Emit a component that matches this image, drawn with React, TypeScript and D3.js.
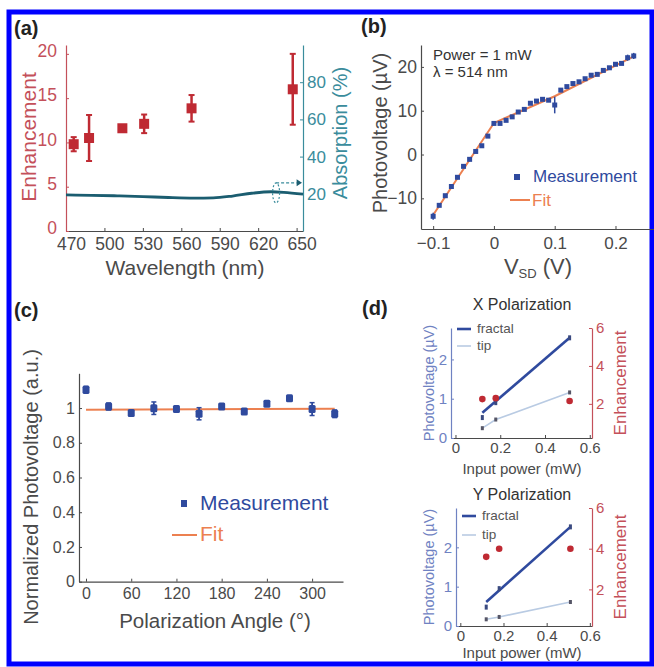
import React, { useEffect, useRef } from 'react';
import * as d3 from 'd3';

// (a) enhancement vs wavelength + absorption
const wavelengths = [476, 488, 514, 531, 568, 647];
const enhancement = [9.8, 10.5, 11.6, 12.1, 13.85, 16.0];
const enhancementErr = [0.8, 2.6, 0.2, 1.05, 1.5, 4.0];
const absWavelength = [470, 490, 510, 530, 550, 570, 585, 600, 615, 630, 640, 655];
const absorption = [19.4, 19.2, 18.9, 18.5, 18.0, 17.7, 17.8, 18.8, 20.3, 21.1, 20.8, 19.8];

// (b) photovoltage vs bias
const vsd = [-0.1, -0.09, -0.08, -0.07, -0.06, -0.05, -0.04, -0.03, -0.02, -0.01, 0, 0.01, 0.02, 0.03, 0.04, 0.05, 0.06,
  0.07, 0.08, 0.09, 0.1, 0.11, 0.12, 0.13, 0.14, 0.15, 0.16, 0.17, 0.18, 0.19, 0.2, 0.21, 0.22, 0.23];
const pv = [-14.1, -11.6, -9.4, -7.3, -5.2, -2.7, -1.1, 0.7, 2.0, 4.2, 7.1, 7.1, 7.8, 8.6, 9.7, 10.3, 11.7,
  12.2, 12.6, 12.4, 11.3, 14.7, 15.5, 16.2, 16.6, 17.3, 18.1, 18.3, 19.2, 19.8, 20.6, 20.8, 22.1, 22.5];
const pvErr = [0.8, 0.4, 0.4, 0.3, 0.3, 0.4, 0.3, 0.3, 0.3, 0.4, 0.4, 0.3, 0.3, 0.3, 0.3, 0.3, 0.4,
  0.3, 0.3, 0.3, 1.9, 0.4, 0.3, 0.3, 0.4, 0.3, 0.3, 0.4, 0.3, 0.3, 0.3, 0.4, 0.7, 0.7];
const fitV = [-0.1, 0, 0.1, 0.23];
const fitPV = [-13.8, 7.2, 13.3, 22.4];

// (c) normalized photovoltage vs polarization angle
const angles = [0, 30, 60, 90, 120, 150, 180, 210, 240, 270, 300, 330];
const normPV = [1.105, 1.009, 0.971, 0.999, 0.994, 0.967, 1.009, 0.98, 1.024, 1.057, 0.994, 0.967];
const normErr = [0.02, 0.02, 0.012, 0.036, 0.01, 0.035, 0.015, 0.015, 0.012, 0.01, 0.037, 0.022];
const fitAngles = [0, 330];
const fitNorm = [0.99, 0.996];

// (d) power dependence
const power = [0.12, 0.18, 0.51];
const fitPower = [0.12, 0.51];
const fractalX = [0.52, 0.9, 2.55];
const fractalFitX = [0.64, 2.55];
const tipX = [0.25, 0.47, 1.16];
const enhX = [2.25, 2.3, 2.15];
const fractalY = [0.48, 0.95, 2.52];
const fractalFitY = [0.61, 2.52];
const tipY = [0.17, 0.23, 0.61];
const enhY = [3.6, 4.0, 4.0];

const FONT = 'Liberation Sans, Arial, sans-serif';
const RED = '#bf2a33';
const RED_AX = '#c4505a';
const TEAL = '#3a8c9c';
const TEAL_DK = '#1b5d70';
const BLUE = '#2f4a9e';
const ORANGE = '#ec8050';
const GRAY = '#4a4a4a';
const BLUE_AX = '#6f82c2';
const TIP = '#b9cbe3';
const fmt = d3.format('~g');

function axis(g, gen, transform, color, fs, ticks, pad = 4) {
  const a = gen.tickValues(ticks).tickSizeInner(-3).tickSizeOuter(0).tickPadding(pad).tickFormat(fmt);
  const sel = g.append('g').attr('transform', transform).call(a);
  sel.select('.domain').attr('stroke', color).attr('stroke-width', 1.2);
  sel.selectAll('line').attr('stroke', color);
  sel.selectAll('text').attr('fill', color).attr('font-size', fs).attr('font-family', FONT);
  return sel;
}

function vLabel(g, x, y, text, color, fs) {
  g.append('text').attr('transform', `translate(${x},${y}) rotate(-90)`).attr('text-anchor', 'middle')
    .attr('font-family', FONT).attr('font-size', fs).attr('fill', color).text(text);
}

function hLabel(g, x, y, text, color, fs, anchor = 'middle') {
  return g.append('text').attr('x', x).attr('y', y).attr('text-anchor', anchor)
    .attr('font-family', FONT).attr('font-size', fs).attr('fill', color).text(text);
}

function App() {
  const ref = useRef(null);

  useEffect(() => {
    const svg = d3.select(ref.current);
    svg.selectAll('*').remove();

    // frame
    svg.append('rect').attr('x', 9).attr('y', 12).attr('width', 643).attr('height', 652)
      .attr('fill', 'white').attr('stroke', '#0000ff').attr('stroke-width', 5);

    // panel letters
    [['(a)', 14, 35], ['(b)', 361, 33], ['(c)', 14, 317], ['(d)', 362, 315]].forEach(([t, x, y]) => {
      svg.append('text').attr('x', x).attr('y', y).attr('font-family', FONT).attr('font-weight', 'bold')
        .attr('font-size', 20).attr('fill', '#222').text(t);
    });

    // ---------- (a)
    const ga = svg.append('g');
    const xA = d3.scaleLinear().domain([470, 655]).range([66, 303]);
    const yA = d3.scaleLinear().domain([0, 21]).range([231, 45]);
    const yA2 = d3.scaleLinear().domain([0, 100]).range([231, 45]);
    const bx = axis(ga, d3.axisBottom(xA), 'translate(0,231)', GRAY, 17.5, [470, 500, 530, 560, 590, 620, 650], 7);
    bx.selectAll('text').attr('dx', 5);
    const ly = axis(ga, d3.axisLeft(yA), 'translate(66,0)', RED_AX, 17.5, [0, 5, 10, 15, 20], 9);
    ly.selectAll('text').attr('dy', '0.15em');
    axis(ga, d3.axisRight(yA2), 'translate(303,0)', TEAL, 17, [20, 40, 60, 80]);
    ga.append('path').datum(absWavelength.map((w, i) => [w, absorption[i]]))
      .attr('d', d3.line().x(d => xA(d[0])).y(d => yA2(d[1])).curve(d3.curveMonotoneX))
      .attr('fill', 'none').attr('stroke', TEAL_DK).attr('stroke-width', 2.8);
    // marker pointing to right axis
    const ex = xA(634), ey = yA2(20.5);
    ga.append('ellipse').attr('cx', ex).attr('cy', ey).attr('rx', 3.5).attr('ry', 10)
      .attr('fill', 'none').attr('stroke', TEAL).attr('stroke-width', 1.2).attr('stroke-dasharray', '2,2');
    ga.append('line').attr('x1', ex).attr('x2', xA(650)).attr('y1', ey - 10).attr('y2', ey - 10)
      .attr('stroke', TEAL).attr('stroke-width', 1.4).attr('stroke-dasharray', '3,2');
    ga.append('path').attr('d', `M${xA(650)},${ey - 13.5}L${xA(655) - 1},${ey - 10}L${xA(650)},${ey - 6.5}Z`)
      .attr('fill', TEAL_DK);
    wavelengths.forEach((w, i) => {
      const x = xA(w);
      const lo = yA(enhancement[i] - enhancementErr[i]);
      const hi = yA(enhancement[i] + enhancementErr[i]);
      ga.append('line').attr('x1', x).attr('x2', x).attr('y1', lo).attr('y2', hi)
        .attr('stroke', RED).attr('stroke-width', 2.5);
      [lo, hi].forEach(yy => ga.append('line').attr('x1', x - 3).attr('x2', x + 3).attr('y1', yy).attr('y2', yy)
        .attr('stroke', RED).attr('stroke-width', 2));
      ga.append('rect').attr('x', x - 5).attr('y', yA(enhancement[i]) - 5).attr('width', 10).attr('height', 10)
        .attr('fill', RED);
    });
    vLabel(ga, 36, 137, 'Enhancement', RED_AX, 21);
    vLabel(ga, 347, 133, 'Absorption (%)', TEAL, 20);
    hLabel(ga, 185, 275, 'Wavelength (nm)', GRAY, 21);

    // ---------- (b)
    const gb = svg.append('g');
    const xB = d3.scaleLinear().domain([-0.12, 0.265]).range([421, 655]);
    const yB = d3.scaleLinear().domain([-17, 25]).range([229, 45]);
    axis(gb, d3.axisBottom(xB), 'translate(0,229)', GRAY, 17, [-0.1, 0, 0.1, 0.2], 8);
    axis(gb, d3.axisLeft(yB), 'translate(421,0)', GRAY, 17.5, [-10, 0, 10, 20]);
    gb.append('path').datum(fitV.map((v, i) => [v, fitPV[i]]))
      .attr('d', d3.line().x(d => xB(d[0])).y(d => yB(d[1])))
      .attr('fill', 'none').attr('stroke', ORANGE).attr('stroke-width', 2);
    vsd.forEach((v, i) => {
      const x = xB(v);
      gb.append('line').attr('x1', x).attr('x2', x).attr('y1', yB(pv[i] - pvErr[i])).attr('y2', yB(pv[i] + pvErr[i]))
        .attr('stroke', BLUE).attr('stroke-width', 1.5);
      gb.append('rect').attr('x', x - 2.5).attr('y', yB(pv[i]) - 2.5).attr('width', 5).attr('height', 5)
        .attr('fill', BLUE);
    });
    hLabel(gb, 433, 60, 'Power = 1 mW', '#333', 15, 'start');
    hLabel(gb, 433, 77, 'λ = 514 nm', '#333', 15, 'start');
    gb.append('rect').attr('x', 514).attr('y', 174).attr('width', 6).attr('height', 6).attr('fill', BLUE);
    hLabel(gb, 533, 182, 'Measurement', BLUE, 17, 'start');
    gb.append('line').attr('x1', 510).attr('x2', 530).attr('y1', 200).attr('y2', 200)
      .attr('stroke', ORANGE).attr('stroke-width', 2);
    hLabel(gb, 532, 206, 'Fit', ORANGE, 17, 'start');
    vLabel(gb, 387, 133, 'Photovoltage (µV)', GRAY, 20);
    const xl = hLabel(gb, 538, 274, '', GRAY, 22);
    xl.append('tspan').text('V');
    xl.append('tspan').attr('font-size', 13).attr('dy', 4).text('SD');
    xl.append('tspan').attr('dy', -4).text(' (V)');

    // ---------- (c)
    const gc = svg.append('g');
    const xC = d3.scaleLinear().domain([-9.3, 341]).range([79, 343]);
    const yC = d3.scaleLinear().domain([0, 1.2]).range([581.7, 373.3]);
    axis(gc, d3.axisBottom(xC), 'translate(0,581.7)', GRAY, 16, [0, 60, 120, 180, 240, 300], 6);
    axis(gc, d3.axisLeft(yC), 'translate(79,0)', GRAY, 16, [0, 0.2, 0.4, 0.6, 0.8, 1]);
    gc.append('path').datum(fitAngles.map((a, i) => [a, fitNorm[i]]))
      .attr('d', d3.line().x(d => xC(d[0])).y(d => yC(d[1])))
      .attr('fill', 'none').attr('stroke', ORANGE).attr('stroke-width', 2);
    angles.forEach((a, i) => {
      const x = xC(a);
      const lo = yC(normPV[i] - normErr[i]);
      const hi = yC(normPV[i] + normErr[i]);
      gc.append('line').attr('x1', x).attr('x2', x).attr('y1', lo).attr('y2', hi)
        .attr('stroke', BLUE).attr('stroke-width', 1.8);
      [lo, hi].forEach(yy => gc.append('line').attr('x1', x - 2.5).attr('x2', x + 2.5).attr('y1', yy).attr('y2', yy)
        .attr('stroke', BLUE).attr('stroke-width', 1.5));
      gc.append('rect').attr('x', x - 3.5).attr('y', yC(normPV[i]) - 4).attr('width', 7).attr('height', 8)
        .attr('rx', 1.5).attr('fill', BLUE);
    });
    gc.append('rect').attr('x', 181).attr('y', 500).attr('width', 6).attr('height', 7).attr('fill', BLUE);
    hLabel(gc, 200, 510, 'Measurement', BLUE, 21, 'start');
    gc.append('line').attr('x1', 172).attr('x2', 197).attr('y1', 535).attr('y2', 535)
      .attr('stroke', ORANGE).attr('stroke-width', 2);
    hLabel(gc, 200, 541, 'Fit', ORANGE, 21, 'start');
    vLabel(gc, 38, 487, 'Normalized Photovoltage (a.u.)', GRAY, 20);
    hLabel(gc, 215, 628, 'Polarization Angle (°)', GRAY, 20.5);

    // ---------- (d)
    const subplots = [
      { title: 'X Polarization', titleY: 310, top: 328, bottom: 438, left: 451, right: 592, yMax: 2.8,
        xLabelY: 474, fractal: fractalX, fit: fractalFitX, tip: tipX, enh: enhX, legY: 329, legGap: 17 },
      { title: 'Y Polarization', titleY: 500, top: 508, bottom: 626, left: 456, right: 592, yMax: 3.0,
        xLabelY: 658, fractal: fractalY, fit: fractalFitY, tip: tipY, enh: enhY, legY: 516, legGap: 19 },
    ];
    subplots.forEach(p => {
      const g = svg.append('g');
      const x = d3.scaleLinear().domain([-0.02, 0.61]).range([p.left, p.right]);
      const y = d3.scaleLinear().domain([0, p.yMax]).range([p.bottom, p.top]);
      const y2 = d3.scaleLinear().domain([0.2, 6]).range([p.bottom, p.top]);
      axis(g, d3.axisBottom(x), `translate(0,${p.bottom})`, GRAY, 15, [0, 0.2, 0.4, 0.6], 4);
      axis(g, d3.axisLeft(y), `translate(${p.left},0)`, BLUE_AX, 15, [0, 1, 2]);
      axis(g, d3.axisRight(y2), `translate(${p.right},0)`, RED_AX, 15, [2, 4, 6]);
      g.append('path').datum(power.map((w, i) => [w, p.tip[i]]))
        .attr('d', d3.line().x(d => x(d[0])).y(d => y(d[1])))
        .attr('fill', 'none').attr('stroke', TIP).attr('stroke-width', 1.6);
      p.tip.forEach((v, i) => g.append('rect').attr('x', x(power[i]) - 1.5).attr('y', y(v) - 2)
        .attr('width', 3).attr('height', 4).attr('fill', '#556'));
      g.append('path').datum(fitPower.map((w, i) => [w, p.fit[i]]))
        .attr('d', d3.line().x(d => x(d[0])).y(d => y(d[1])))
        .attr('fill', 'none').attr('stroke', BLUE).attr('stroke-width', 2.6);
      p.fractal.forEach((v, i) => g.append('rect').attr('x', x(power[i]) - 1.5).attr('y', y(v) - 2.5)
        .attr('width', 3).attr('height', 5).attr('fill', '#3a4a80'));
      p.enh.forEach((v, i) => g.append('circle').attr('cx', x(power[i])).attr('cy', y2(v)).attr('r', 3.3)
        .attr('fill', RED));
      hLabel(g, 522, p.titleY, p.title, '#333', 16);
      g.append('line').attr('x1', p.left + 6).attr('x2', p.left + 20).attr('y1', p.legY).attr('y2', p.legY)
        .attr('stroke', BLUE).attr('stroke-width', 2.6);
      hLabel(g, p.left + 26, p.legY + 4, 'fractal', '#555', 13.5, 'start');
      g.append('line').attr('x1', p.left + 6).attr('x2', p.left + 20).attr('y1', p.legY + p.legGap)
        .attr('y2', p.legY + p.legGap).attr('stroke', TIP).attr('stroke-width', 1.6);
      hLabel(g, p.left + 26, p.legY + p.legGap + 4, 'tip', '#555', 13.5, 'start');
      vLabel(g, 434, (p.top + p.bottom) / 2, 'Photovoltage (µV)', BLUE_AX, 14.5);
      vLabel(g, 626, (p.top + p.bottom) / 2, 'Enhancement', RED_AX, 17);
      hLabel(g, 522, p.xLabelY, 'Input power (mW)', GRAY, 15);
    });
  }, []);

  return (
    <svg ref={ref} width={654} height={667}
      style={{ position: 'absolute', left: 0, top: 0, background: 'white' }} />
  );
}

export default App;
